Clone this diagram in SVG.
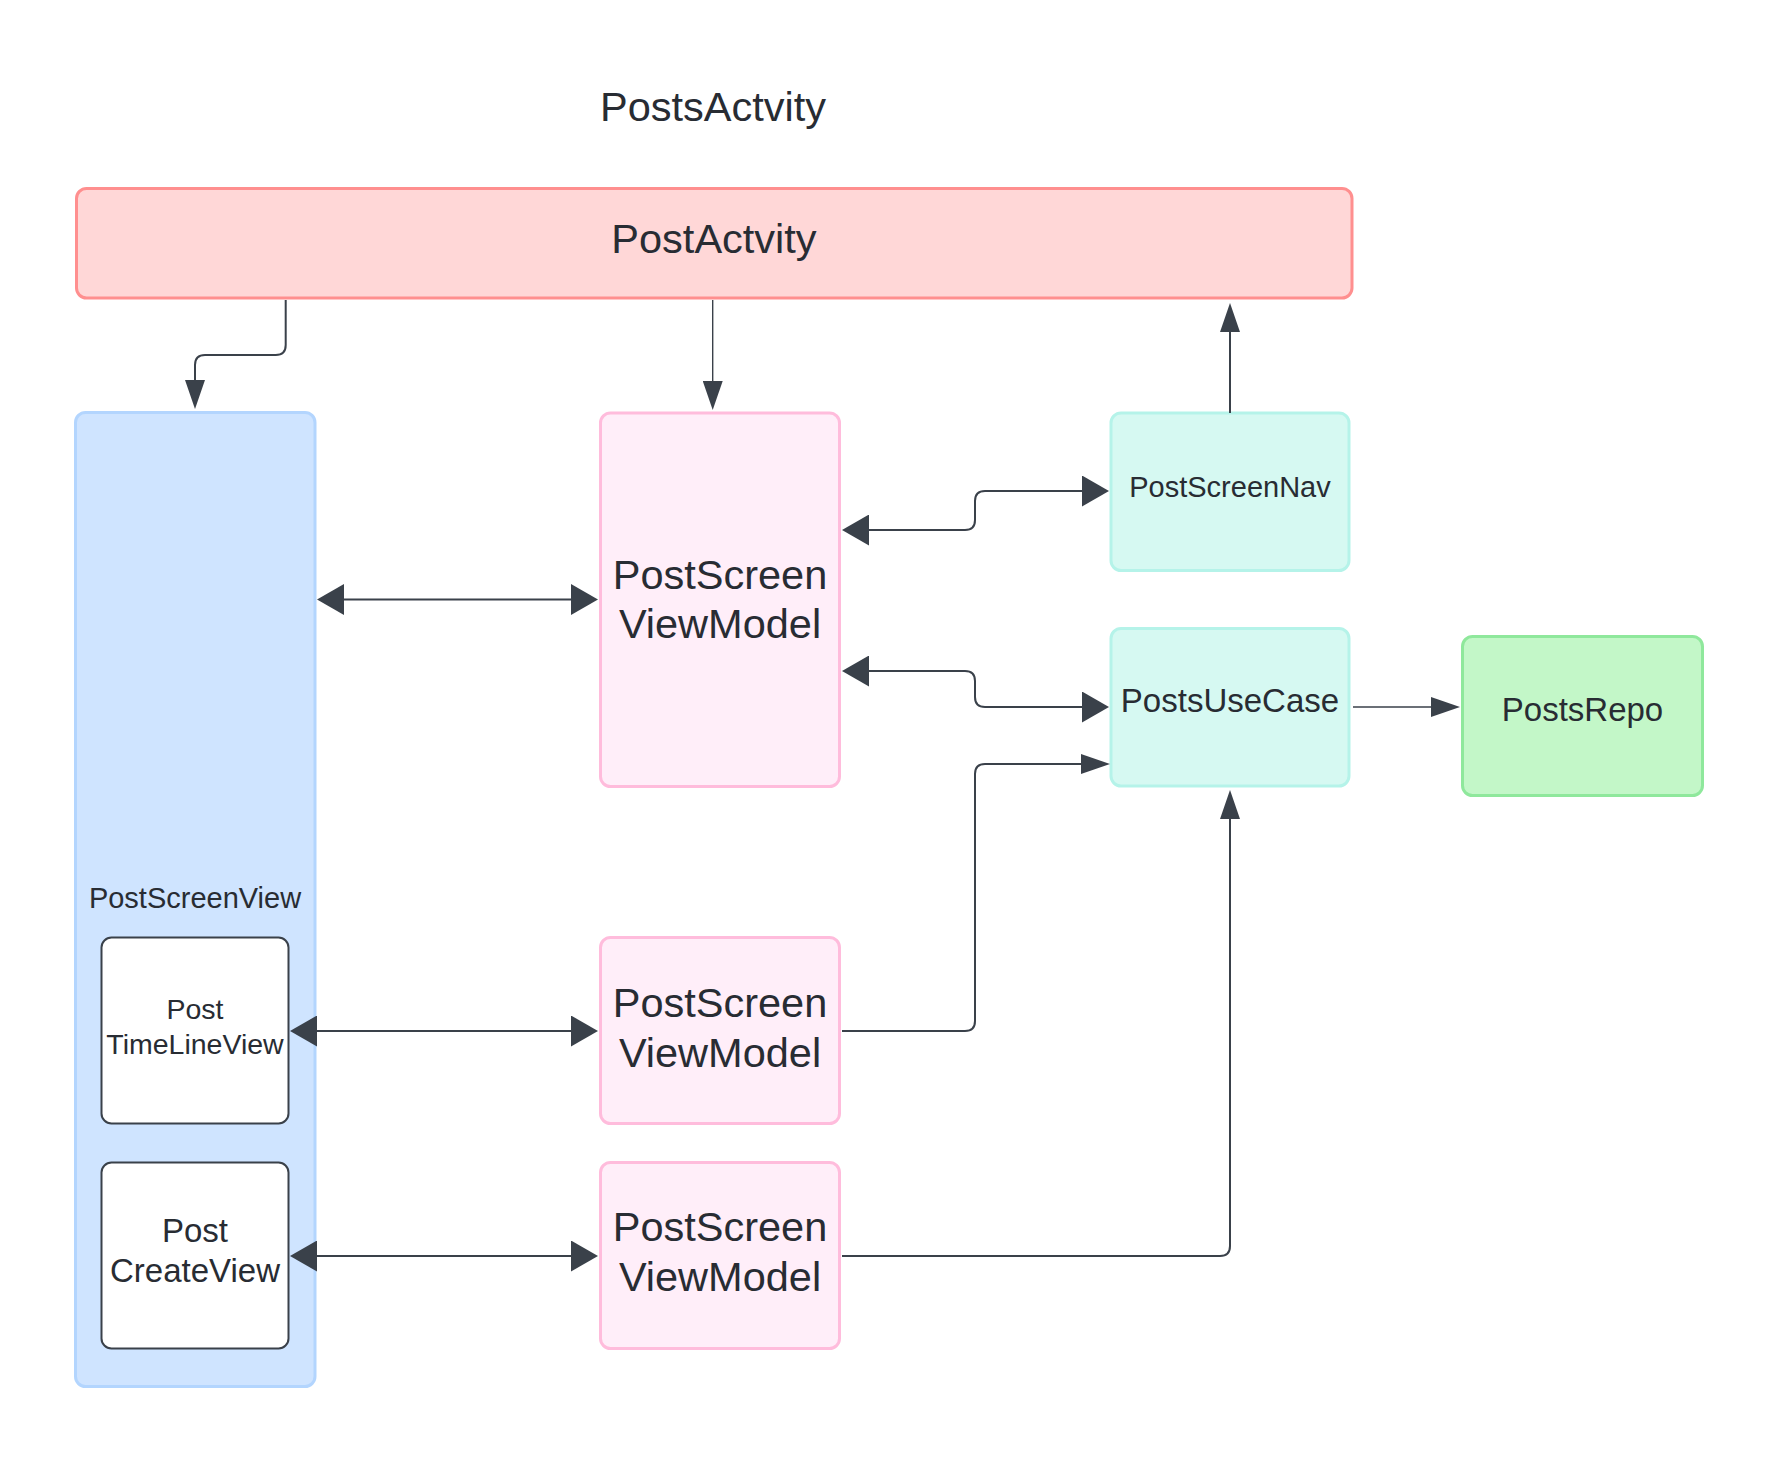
<svg xmlns="http://www.w3.org/2000/svg" width="1778" height="1463" viewBox="0 0 1778 1463">
<style>
  text { font-family: "Liberation Sans", Arial, sans-serif; fill: #282c33; text-anchor: middle; }
  .node { stroke-width: 3; }
  .red { fill: #ffd7d7; stroke: #ff8f8f; }
  .blue { fill: #cfe4ff; stroke: #b3d5fe; }
  .pink { fill: #ffeef9; stroke: #ffbcdc; }
  .teal { fill: #d6f9f2; stroke: #b5f3e9; }
  .green { fill: #c3f7c8; stroke: #8fe89c; }
  .white { fill: #ffffff; stroke: #3a414a; stroke-width: 2; }
  .conn path { fill: none; stroke: #3a414a; stroke-width: 2; }
  .conn path.thin { stroke-width: 1.4; }
  .f41 { font-size: 41.5px; }
  .f33 { font-size: 33px; }
  .f32 { font-size: 33px; }
  .f29 { font-size: 29px; }
  .f28 { font-size: 28.5px; }
</style>
<defs>
  <marker id="big" viewBox="0 0 27 31" markerWidth="27" markerHeight="31" refX="0" refY="15.5" markerUnits="userSpaceOnUse" orient="auto-start-reverse">
    <path d="M0,0 L27,15.5 L0,31 Z" fill="#3a414a"/>
  </marker>
  <marker id="small" viewBox="0 0 29 20" markerWidth="29" markerHeight="20" refX="0" refY="10" markerUnits="userSpaceOnUse" orient="auto-start-reverse">
    <path d="M0,0 L29,10 L0,20 Z" fill="#3a414a"/>
  </marker>
</defs>
<rect width="1778" height="1463" fill="#ffffff"/>

<g id="title">
  <text x="713" y="121" class="f41">PostsActvity</text>
</g>

<g id="PostActvity">
  <rect class="node red" x="76.5" y="188.5" width="1275.5" height="109.5" rx="10"/>
  <text x="714" y="253" class="f41">PostActvity</text>
</g>

<g id="PostScreenView">
  <rect class="node blue" x="75.5" y="412.5" width="239.5" height="974" rx="10"/>
  <text x="195" y="908" class="f29">PostScreenView</text>
</g>

<g id="PostTimeLineView">
  <rect class="white" x="101.5" y="937.5" width="187" height="186" rx="10"/>
  <text x="195" y="1019" class="f28">Post</text>
  <text x="195" y="1054" class="f28">TimeLineView</text>
</g>

<g id="PostCreateView">
  <rect class="white" x="101.5" y="1162.5" width="187" height="186" rx="10"/>
  <text x="195" y="1241.7" class="f32">Post</text>
  <text x="195" y="1281.7" class="f32">CreateView</text>
</g>

<g id="PostScreenViewModel1">
  <rect class="node pink" x="600.5" y="413" width="239" height="373.5" rx="10"/>
  <text x="720" y="589" class="f41">PostScreen</text>
  <text x="720" y="638" class="f41">ViewModel</text>
</g>

<g id="PostScreenViewModel2">
  <rect class="node pink" x="600.5" y="937.5" width="239" height="186" rx="10"/>
  <text x="720" y="1016.7" class="f41">PostScreen</text>
  <text x="720" y="1066.7" class="f41">ViewModel</text>
</g>

<g id="PostScreenViewModel3">
  <rect class="node pink" x="600.5" y="1162.5" width="239" height="186" rx="10"/>
  <text x="720" y="1241" class="f41">PostScreen</text>
  <text x="720" y="1291" class="f41">ViewModel</text>
</g>

<g id="PostScreenNav">
  <rect class="node teal" x="1111" y="413" width="238" height="157.5" rx="10"/>
  <text x="1230" y="497" class="f29">PostScreenNav</text>
</g>

<g id="PostsUseCase">
  <rect class="node teal" x="1111" y="628.5" width="238" height="157.5" rx="10"/>
  <text x="1230" y="712" class="f33">PostsUseCase</text>
</g>

<g id="PostsRepo">
  <rect class="node green" x="1462.5" y="636.5" width="240" height="159" rx="10"/>
  <text x="1582.5" y="721" class="f33">PostsRepo</text>
</g>

<g id="connectors" class="conn">
  <path d="M285.7,300 V345 Q285.7,355 275.7,355 H205 Q195,355 195,365 V380" marker-end="url(#small)"/>
  <path class="thin" d="M712.7,300 V381" marker-end="url(#small)"/>
  <path d="M1230,413 V332" marker-end="url(#small)"/>
  <path d="M344,599.5 H571" marker-start="url(#big)" marker-end="url(#big)"/>
  <path d="M869,530 H965 Q975,530 975,520 V501 Q975,491 985,491 H1082" marker-start="url(#big)" marker-end="url(#big)"/>
  <path d="M869,671 H965 Q975,671 975,681 V697 Q975,707 985,707 H1082" marker-start="url(#big)" marker-end="url(#big)"/>
  <path class="thin" d="M1353,707 H1431" marker-end="url(#small)"/>
  <path d="M842,1031 H965 Q975,1031 975,1021 V774 Q975,764 985,764 H1081" marker-end="url(#small)"/>
  <path d="M842,1256 H1220 Q1230,1256 1230,1246 V819" marker-end="url(#small)"/>
  <path d="M317,1031 H571" marker-start="url(#big)" marker-end="url(#big)"/>
  <path d="M317,1256 H571" marker-start="url(#big)" marker-end="url(#big)"/>
</g>
</svg>
